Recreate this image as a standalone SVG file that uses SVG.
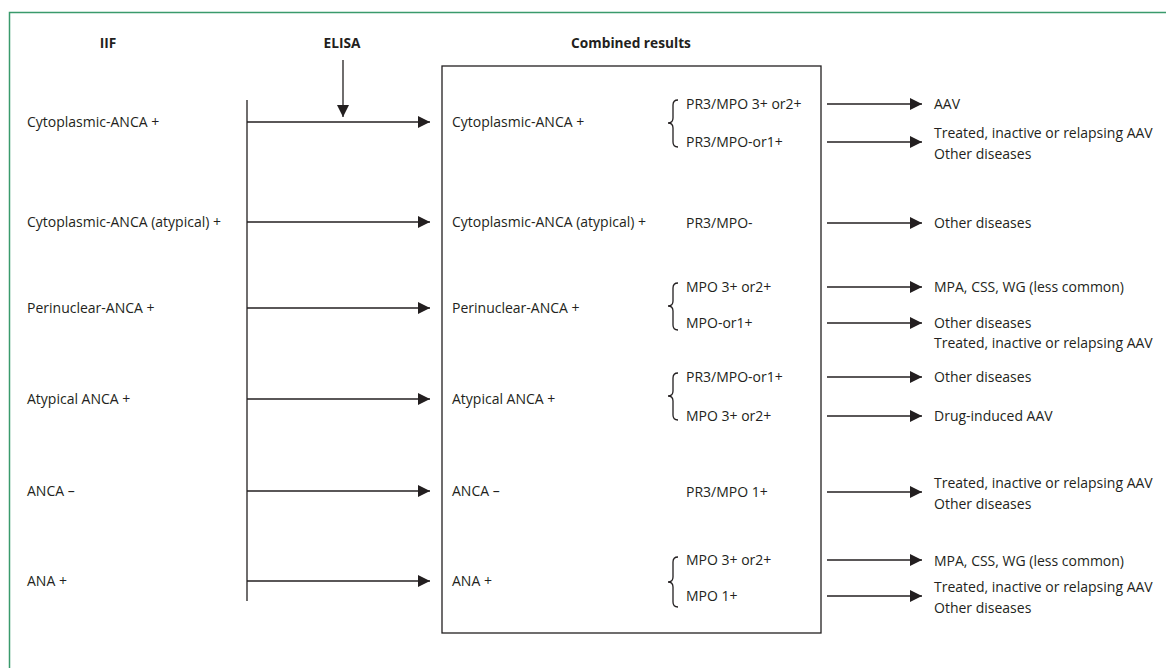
<svg xmlns="http://www.w3.org/2000/svg" width="1166" height="668" viewBox="0 0 1166 668">
<defs>
<style>
text{font-family:"Open Sans","Noto Sans","Liberation Sans",sans-serif;font-size:14px;fill:#231f20}
.h{font-weight:bold;font-size:13.7px}
.ln{stroke:#231f20;stroke-width:1.3;fill:none}
.br{stroke:#231f20;stroke-width:1.3;fill:none}
</style>
<marker id="ah" markerUnits="userSpaceOnUse" markerWidth="12" markerHeight="12" refX="12" refY="6" orient="auto">
<path d="M0,0 L12,6 L0,12 Z" fill="#231f20"/>
</marker>
</defs>
<rect width="1166" height="668" fill="#fff"/>
<path d="M9.5,668 V12.5 H1166" fill="none" stroke="#3a9a6c" stroke-width="1.5"/>

<g id="headers">
<text class="h" x="108" y="48" text-anchor="middle">IIF</text>
<text class="h" x="342" y="48" text-anchor="middle">ELISA</text>
<text class="h" x="631" y="48" text-anchor="middle">Combined results</text>
</g>

<g id="iif">
<text x="27" y="127">Cytoplasmic-ANCA +</text>
<text x="27" y="227">Cytoplasmic-ANCA (atypical) +</text>
<text x="27" y="313">Perinuclear-ANCA +</text>
<text x="27" y="404">Atypical ANCA +</text>
<text x="27" y="496">ANCA –</text>
<text x="27" y="586">ANA +</text>
</g>

<g id="combined">
<rect x="442" y="66" width="379" height="567" class="ln"/>
<text x="452" y="127">Cytoplasmic-ANCA +</text>
<text x="452" y="227">Cytoplasmic-ANCA (atypical) +</text>
<text x="452" y="313">Perinuclear-ANCA +</text>
<text x="452" y="404">Atypical ANCA +</text>
<text x="452" y="496">ANCA –</text>
<text x="452" y="586">ANA +</text>
</g>

<g id="elisa">
<text x="686" y="109">PR3/MPO 3+ or2+</text>
<text x="686" y="147">PR3/MPO-or1+</text>
<text x="686" y="228">PR3/MPO-</text>
<text x="686" y="292">MPO 3+ or2+</text>
<text x="686" y="328">MPO-or1+</text>
<text x="686" y="382">PR3/MPO-or1+</text>
<text x="686" y="421">MPO 3+ or2+</text>
<text x="686" y="497">PR3/MPO 1+</text>
<text x="686" y="565">MPO 3+ or2+</text>
<text x="686" y="601">MPO 1+</text>
</g>

<g id="braces">
<path class="br" d="M678,100 Q673,100 673,105 L673,118 Q673,123 668,123 Q673,123 673,128 L673,142 Q673,147 678,147"/>
<path class="br" d="M678,283 Q673,283 673,288 L673,301 Q673,306 668,306 Q673,306 673,311 L673,325 Q673,330 678,330"/>
<path class="br" d="M678,373 Q673,373 673,378 L673,391 Q673,396 668,396 Q673,396 673,401 L673,415 Q673,420 678,420"/>
<path class="br" d="M678,557 Q673,557 673,562 L673,577 Q673,582 668,582 Q673,582 673,587 L673,602 Q673,607 678,607"/>
</g>

<g id="outcomes">
<text x="934" y="109">AAV</text>
<text x="934" y="138">Treated, inactive or relapsing AAV</text>
<text x="934" y="159">Other diseases</text>
<text x="934" y="228">Other diseases</text>
<text x="934" y="292">MPA, CSS, WG (less common)</text>
<text x="934" y="328">Other diseases</text>
<text x="934" y="348">Treated, inactive or relapsing AAV</text>
<text x="934" y="382">Other diseases</text>
<text x="934" y="421">Drug-induced AAV</text>
<text x="934" y="488">Treated, inactive or relapsing AAV</text>
<text x="934" y="509">Other diseases</text>
<text x="934" y="566">MPA, CSS, WG (less common)</text>
<text x="934" y="592">Treated, inactive or relapsing AAV</text>
<text x="934" y="613">Other diseases</text>
</g>

<g id="connectors">
<line class="ln" x1="247" y1="100" x2="247" y2="601"/>
<line class="ln" x1="343" y1="60" x2="343" y2="117" marker-end="url(#ah)"/>
<line class="ln" x1="247" y1="122" x2="430" y2="122" marker-end="url(#ah)"/>
<line class="ln" x1="247" y1="222" x2="430" y2="222" marker-end="url(#ah)"/>
<line class="ln" x1="247" y1="308" x2="430" y2="308" marker-end="url(#ah)"/>
<line class="ln" x1="247" y1="399" x2="430" y2="399" marker-end="url(#ah)"/>
<line class="ln" x1="247" y1="491" x2="430" y2="491" marker-end="url(#ah)"/>
<line class="ln" x1="247" y1="581" x2="430" y2="581" marker-end="url(#ah)"/>
<line class="ln" x1="827" y1="104" x2="922" y2="104" marker-end="url(#ah)"/>
<line class="ln" x1="827" y1="142" x2="922" y2="142" marker-end="url(#ah)"/>
<line class="ln" x1="827" y1="223" x2="922" y2="223" marker-end="url(#ah)"/>
<line class="ln" x1="827" y1="287" x2="922" y2="287" marker-end="url(#ah)"/>
<line class="ln" x1="827" y1="323" x2="922" y2="323" marker-end="url(#ah)"/>
<line class="ln" x1="827" y1="377" x2="922" y2="377" marker-end="url(#ah)"/>
<line class="ln" x1="827" y1="416" x2="922" y2="416" marker-end="url(#ah)"/>
<line class="ln" x1="827" y1="492" x2="922" y2="492" marker-end="url(#ah)"/>
<line class="ln" x1="827" y1="560" x2="922" y2="560" marker-end="url(#ah)"/>
<line class="ln" x1="827" y1="596" x2="922" y2="596" marker-end="url(#ah)"/>
</g>
</svg>
